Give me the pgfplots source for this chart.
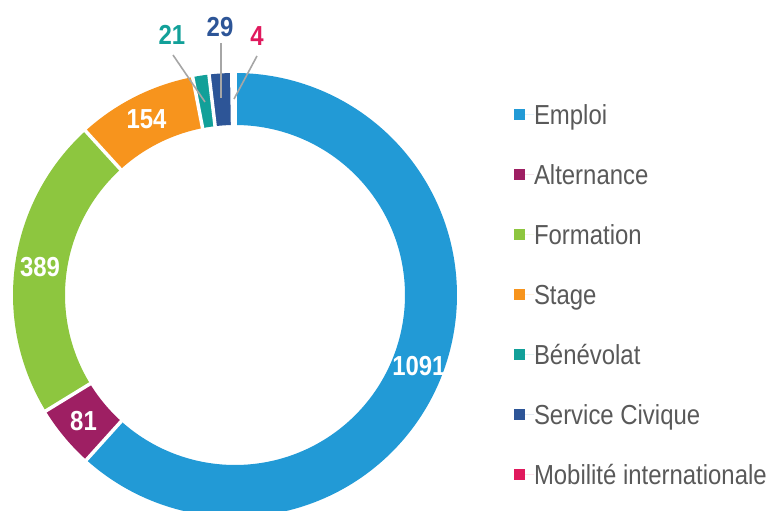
\documentclass[border=0pt]{standalone}
\usepackage{pgfplots}
\pgfplotsset{compat=1.18}
\usepackage{pgfplotstable}
\usepackage{fontspec}
\setmainfont{Liberation Sans}[FakeStretch=0.87]
\definecolor{cEmploi}{HTML}{229AD6}
\definecolor{cAlt}{HTML}{9E1F63}
\definecolor{cForm}{HTML}{8DC63F}
\definecolor{cStage}{HTML}{F7941D}
\definecolor{cBen}{HTML}{12A099}
\definecolor{cServ}{HTML}{2D5597}
\definecolor{cMob}{HTML}{E0195D}
\definecolor{legtext}{HTML}{595959}
\definecolor{leader}{HTML}{A6A6A6}

% category index, value (Emploi, Alternance, Formation, Stage, Benevolat, Service Civique, Mobilite)
\pgfplotstableread{
cat value
0 1091
1 81
2 389
3 154
4 21
5 29
6 4
}\donut

\begin{document}
\begin{tikzpicture}
\useasboundingbox (0,0) rectangle (773bp,511bp);
\pgfplotstablegetelem{0}{value}\of\donut \let\vA\pgfplotsretval
\pgfplotstablegetelem{1}{value}\of\donut \let\vB\pgfplotsretval
\pgfplotstablegetelem{2}{value}\of\donut \let\vC\pgfplotsretval
\pgfplotstablegetelem{3}{value}\of\donut \let\vD\pgfplotsretval
\pgfplotstablegetelem{4}{value}\of\donut \let\vE\pgfplotsretval
\pgfplotstablegetelem{5}{value}\of\donut \let\vF\pgfplotsretval
\pgfplotstablegetelem{6}{value}\of\donut \let\vG\pgfplotsretval
\pgfmathsetmacro\tot{\vA+\vB+\vC+\vD+\vE+\vF+\vG}
\pgfmathsetmacro\bA{90-360*(\vA/\tot)}
\pgfmathsetmacro\bB{\bA-360*(\vB/\tot)}
\pgfmathsetmacro\bC{\bB-360*(\vC/\tot)}
\pgfmathsetmacro\bD{\bC-360*(\vD/\tot)}
\pgfmathsetmacro\bE{\bD-360*(\vE/\tot)}
\pgfmathsetmacro\bF{\bE-360*(\vF/\tot)}
\pgfmathsetmacro\bG{\bF-360*(\vG/\tot)}
\pgfmathsetmacro\mA{(90+\bA)/2}
\pgfmathsetmacro\mB{(\bA+\bB)/2}
\pgfmathsetmacro\mC{(\bB+\bC)/2}
\pgfmathsetmacro\mD{(\bC+\bD)/2}
\begin{axis}[
  at={(0,0)}, anchor=south west,
  width=773bp, height=511bp, scale only axis,
  xmin=0, xmax=773, ymin=0, ymax=511,
  hide axis,
  legend cell align=left,
  legend image code/.code={\fill[#1] (0bp,-5.5bp) rectangle (11bp,5.5bp); \path (0bp,0bp) -- (20bp,0bp);},
  legend style={at={(axis cs:514,406)}, anchor=north west, draw=none, fill=none,
    inner sep=0pt, outer sep=0pt, row sep=40bp, column sep=0pt,
    nodes={inner sep=0pt, text height=20bp, text depth=0bp, text=legtext,
      font=\fontsize{27.5bp}{33bp}\selectfont}},
]
% ring slices
\addplot[cEmploi, line width=52bp, domain=\bA:90, samples=160, forget plot] ({235+196*cos(x)},{216+196*sin(x)});
\addplot[cAlt, line width=52bp, domain=\bB:\bA, samples=20, forget plot] ({235+196*cos(x)},{216+196*sin(x)});
\addplot[cForm, line width=52bp, domain=\bC:\bB, samples=60, forget plot] ({235+196*cos(x)},{216+196*sin(x)});
\addplot[cStage, line width=52bp, domain=\bD:\bC, samples=30, forget plot] ({235+196*cos(x)},{216+196*sin(x)});
\addplot[cBen, line width=52bp, domain=\bE:\bD, samples=8, forget plot] ({235+196*cos(x)},{216+196*sin(x)});
\addplot[cServ, line width=52bp, domain=\bF:\bE, samples=8, forget plot] ({235+196*cos(x)},{216+196*sin(x)});
\addplot[cMob, line width=52bp, domain=\bG:\bF, samples=4, forget plot] ({235+196*cos(x)},{216+196*sin(x)});
% white separators
\addplot[white, line width=3.5bp, domain=165:227, samples=2, forget plot] ({235+x*cos(90)},{216+x*sin(90)});
\addplot[white, line width=3.5bp, domain=165:227, samples=2, forget plot] ({235+x*cos(\bA)},{216+x*sin(\bA)});
\addplot[white, line width=3.5bp, domain=165:227, samples=2, forget plot] ({235+x*cos(\bB)},{216+x*sin(\bB)});
\addplot[white, line width=3.5bp, domain=165:227, samples=2, forget plot] ({235+x*cos(\bC)},{216+x*sin(\bC)});
\addplot[white, line width=3.5bp, domain=165:227, samples=2, forget plot] ({235+x*cos(\bD)},{216+x*sin(\bD)});
\addplot[white, line width=3.5bp, domain=165:227, samples=2, forget plot] ({235+x*cos(\bE)},{216+x*sin(\bE)});
\addplot[white, line width=3.5bp, domain=165:227, samples=2, forget plot] ({235+x*cos(\bF)},{216+x*sin(\bF)});
% legend
\addlegendimage{fill=cEmploi, draw=none}\addlegendentry{Emploi}
\addlegendimage{fill=cAlt, draw=none}\addlegendentry{Alternance}
\addlegendimage{fill=cForm, draw=none}\addlegendentry{Formation}
\addlegendimage{fill=cStage, draw=none}\addlegendentry{Stage}
\addlegendimage{fill=cBen, draw=none}\addlegendentry{Bénévolat}
\addlegendimage{fill=cServ, draw=none}\addlegendentry{Service Civique}
\addlegendimage{fill=cMob, draw=none}\addlegendentry{Mobilité internationale}
% labels inside ring
\node[text=white, font=\fontsize{27.5bp}{33bp}\selectfont\bfseries] at (axis cs:{235+197*cos(\mA)},{216+197*sin(\mA)}) {1091};
\node[text=white, font=\fontsize{27.5bp}{33bp}\selectfont\bfseries] at (axis cs:{235+197*cos(\mB)},{216+197*sin(\mB)}) {81};
\node[text=white, font=\fontsize{27.5bp}{33bp}\selectfont\bfseries] at (axis cs:{235+197*cos(\mC)},{216+197*sin(\mC)}) {389};
\node[text=white, font=\fontsize{27.5bp}{33bp}\selectfont\bfseries] at (axis cs:{235+197*cos(\mD)},{216+197*sin(\mD)}) {154};
% leader lines and outside labels
\draw[leader, line width=1.6bp] (axis cs:173,456) -- (axis cs:205,409);
\draw[leader, line width=1.6bp] (axis cs:221,468) -- (axis cs:221,413);
\draw[leader, line width=1.6bp] (axis cs:257,455) -- (axis cs:234,412);
\node[text=cBen, font=\fontsize{27.5bp}{33bp}\selectfont\bfseries] at (axis cs:172,476) {21};
\node[text=cServ, font=\fontsize{27.5bp}{33bp}\selectfont\bfseries] at (axis cs:220,484) {29};
\node[text=cMob, font=\fontsize{27.5bp}{33bp}\selectfont\bfseries] at (axis cs:257,475) {4};
\end{axis}
\end{tikzpicture}
\end{document}
